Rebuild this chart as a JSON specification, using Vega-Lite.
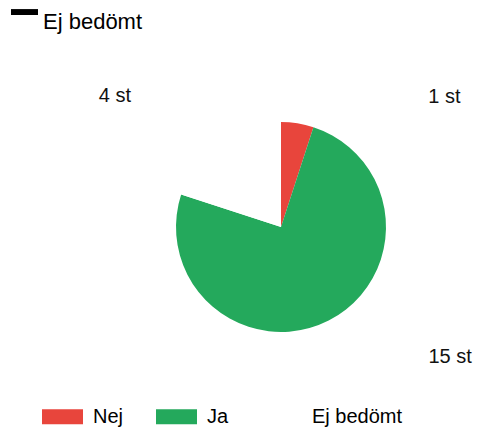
{
  "$schema": "https://vega.github.io/schema/vega-lite/v6.json",
  "width": 394,
  "height": 406,
  "autosize": {"type": "none"},
  "padding": {"left": 84, "top": 24, "right": 0, "bottom": 0},
  "background": "white",
  "config": {"view": {"stroke": null}, "font": "Liberation Sans"},
  "datasets": {
    "andelar": [
      {"kategori": "Nej", "antal": 1, "etikett": "1 st"},
      {"kategori": "Ja", "antal": 15, "etikett": "15 st"},
      {"kategori": "Ej bedömt", "antal": 4, "etikett": "4 st"}
    ],
    "rubrik": [{"serie": "Ej bedömt"}]
  },
  "data": {"name": "andelar"},
  "layer": [
    {
      "mark": {"type": "arc", "outerRadius": 105},
      "encoding": {
        "theta": {"field": "antal", "type": "quantitative", "stack": true},
        "order": {"field": "kategori", "type": "ordinal", "sort": "descending"},
        "fill": {
          "field": "kategori",
          "type": "nominal",
          "scale": {"domain": ["Nej", "Ja", "Ej bedömt"], "range": ["#E8453C", "#24A95C", "#FFFFFF"]},
          "legend": {
            "orient": "none",
            "legendX": -42,
            "legendY": 372,
            "direction": "horizontal",
            "title": null,
            "symbolType": "M-1,-0.366H1V0.366H-1Z",
            "symbolSize": 1681,
            "symbolStrokeWidth": 0,
            "labelFontSize": 20,
            "labelFont": "Liberation Sans",
            "labelColor": "#000",
            "labelOffset": 10,
            "columnPadding": 32
          }
        }
      }
    },
    {
      "mark": {"type": "text", "radius": 150, "dx": 140, "dy": 18, "fontSize": 20, "align": "center", "baseline": "middle", "color": "#111"},
      "encoding": {
        "theta": {"field": "antal", "type": "quantitative", "stack": true},
        "order": {"field": "kategori", "type": "ordinal", "sort": "descending"},
        "text": {"condition": {"test": "datum.kategori === 'Nej'", "field": "etikett"}, "value": ""}
      }
    },
    {
      "mark": {"type": "text", "radius": 150, "dx": 101, "dy": -4, "fontSize": 20, "align": "center", "baseline": "middle", "color": "#111"},
      "encoding": {
        "theta": {"field": "antal", "type": "quantitative", "stack": true},
        "order": {"field": "kategori", "type": "ordinal", "sort": "descending"},
        "text": {"condition": {"test": "datum.kategori === 'Ja'", "field": "etikett"}, "value": ""}
      }
    },
    {
      "mark": {"type": "text", "radius": 150, "dx": -78, "dy": -10, "fontSize": 20, "align": "center", "baseline": "middle", "color": "#111"},
      "encoding": {
        "theta": {"field": "antal", "type": "quantitative", "stack": true},
        "order": {"field": "kategori", "type": "ordinal", "sort": "descending"},
        "text": {"condition": {"test": "datum.kategori === 'Ej bedömt'", "field": "etikett"}, "value": ""}
      }
    },
    {
      "data": {"name": "rubrik"},
      "mark": {"type": "point", "opacity": 0, "filled": true, "color": "#000"},
      "encoding": {
        "shape": {
          "field": "serie",
          "type": "nominal",
          "scale": {"range": ["M-1,-0.92H1V-0.48H-1Z"]},
          "legend": {
            "orient": "none",
            "legendX": -73,
            "legendY": -16,
            "title": null,
            "symbolSize": 729,
            "symbolFillColor": "#000",
            "symbolStrokeColor": "#000",
            "symbolStrokeWidth": 0,
            "symbolOpacity": 1,
            "labelFontSize": 22,
            "labelFont": "Liberation Sans",
            "labelColor": "#000",
            "labelOffset": 5
          }
        }
      }
    }
  ]
}
